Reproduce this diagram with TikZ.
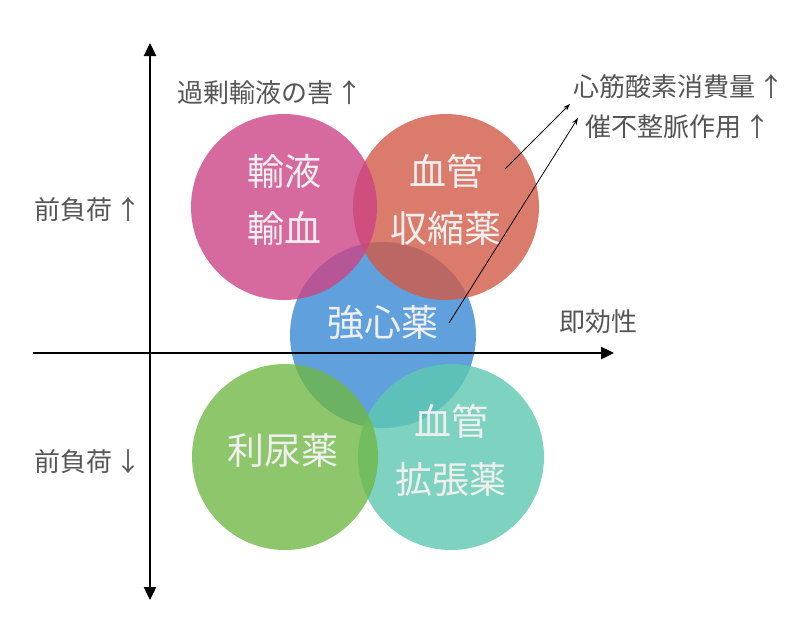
\documentclass[tikz,border=0pt]{standalone}
\usepackage{fontspec}
\setmainfont{Noto Sans CJK JP}
\usetikzlibrary{arrows.meta}
\definecolor{cpink}{HTML}{CC4486}
\definecolor{cred}{HTML}{D25A46}
\definecolor{cblue}{HTML}{3788D4}
\definecolor{cgreen}{HTML}{70B846}
\definecolor{cteal}{HTML}{5DC8B0}
\definecolor{txtgray}{HTML}{555555}
\definecolor{intxt}{HTML}{EFEFEF}
\newcommand{\upar}{\hspace{3pt}↑}
\newcommand{\dnar}{\hspace{3pt}↓}
\tikzset{
  bubble/.style={circle, minimum size=186pt, inner sep=0pt, fill opacity=0.8, draw=none},
  intext/.style={font=\fontsize{37}{42}\selectfont, text=intxt, inner sep=0pt},
  outtext/.style={font=\fontsize{26}{30}\selectfont, text=txtgray, inner sep=0pt},
  axis/.style={line width=2.4pt, black, {Triangle[length=13pt,width=12pt]}-{Triangle[length=13pt,width=12pt]}},
  haxis/.style={line width=2.4pt, black, -{Triangle[length=13pt,width=12pt]}},
  pointer/.style={line width=0.8pt, black, -{Stealth[length=7pt,width=5pt]}}
}
\begin{document}
\begin{tikzpicture}[x=1pt,y=-1pt]
\useasboundingbox (0,0) rectangle (800,622);
% circles
\node[bubble, fill=cblue] (blue) at (383,335) {};
\node[bubble, fill=cred] (red) at (446,207) {};
\node[bubble, fill=cpink] (pink) at (284,207) {};
\node[bubble, fill=cteal] (teal) at (451,457) {};
\node[bubble, fill=cgreen] (green) at (285,457) {};
% circle texts
\node[intext] (t1a) at (284,171) {輸液};
\node[intext] (t1b) at (284,228) {輸血};
\node[intext] (t2a) at (446,171) {血管};
\node[intext] (t2b) at (446,228) {収縮薬};
\node[intext] (t3) at (383,323) {強心薬};
\node[intext] (t4) at (283,450) {利尿薬};
\node[intext] (t5a) at (451,421) {血管};
\node[intext] (t5b) at (451,479) {拡張薬};
% axes
\coordinate (vtop) at (150,43);
\coordinate (vbot) at (150,600);
\coordinate (hleft) at (33,353);
\coordinate (hright) at (614,353);
\draw[axis] (vbot) -- (vtop);
\draw[haxis] (hleft) -- (hright);
% outer texts
\node[outtext] (l1) at (270,93) {過剰輸液の害\upar};
\node[outtext] (l2) at (88,210) {前負荷\upar};
\node[outtext] (l3) at (88,462) {前負荷\dnar};
\node[outtext] (l4) at (598,322) {即効性};
\node[outtext] (l5) at (679,87) {心筋酸素消費量\upar};
\node[outtext] (l6) at (678,127) {催不整脈作用\upar};
% pointers
\coordinate (p1s) at (505,169);
\coordinate (p1e) at (570,104);
\coordinate (p2s) at (449,323);
\coordinate (p2e) at (578,118);
\draw[pointer] (p1s) -- (p1e);
\draw[pointer] (p2s) -- (p2e);
\end{tikzpicture}
\end{document}
